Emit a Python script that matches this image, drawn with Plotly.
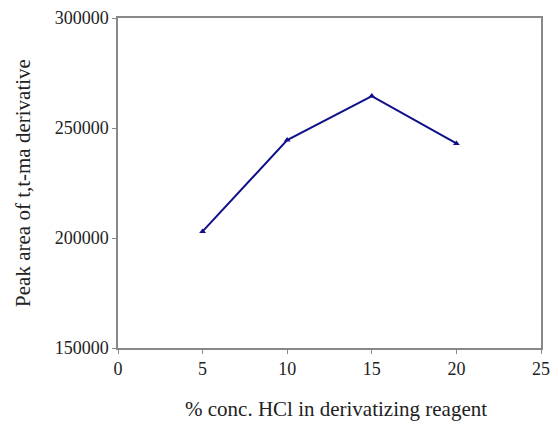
import plotly.graph_objects as go

hcl_conc = [5, 10, 15, 20]
peak_area = [203000, 244500, 264500, 243000]
x_ticks = [0, 5, 10, 15, 20, 25]
y_ticks = [150000, 200000, 250000, 300000]
y_tick_labels = ["150000", "200000", "250000", "300000"]

fig = go.Figure()
fig.add_trace(go.Scatter(
    x=hcl_conc, y=peak_area, mode="lines+markers",
    line=dict(color="#10108a", width=2),
    marker=dict(symbol="triangle-up", size=6, color="#10108a"),
    showlegend=False,
))

font = "Liberation Serif, Times New Roman, serif"
fig.update_layout(
    width=558, height=425,
    margin=dict(l=118, r=8, t=18, b=77),
    paper_bgcolor="white", plot_bgcolor="white",
    font=dict(family=font, size=18, color="#222"),
)
fig.add_annotation(
    text="% conc. HCl in derivatizing reagent", font=dict(size=21),
    xref="paper", yref="paper", x=0.516, y=-0.186,
    xanchor="center", yanchor="middle", showarrow=False,
)
fig.update_xaxes(
    range=[0, 25], tickvals=x_ticks, showgrid=False, zeroline=False,
    showline=True, linecolor="#888", linewidth=1.5, mirror=True,
    ticks="outside", ticklen=4, tickcolor="#888",
)
fig.update_yaxes(
    range=[150000, 300000], tickvals=y_ticks, ticktext=y_tick_labels,
    showgrid=False, zeroline=False,
    showline=True, linecolor="#888", linewidth=1.5, mirror=True,
    ticks="outside", ticklen=4, tickcolor="#888",
    title=dict(text="Peak area of t,t-ma derivative", font=dict(size=21), standoff=18),
)
fig.write_html("out.html")
